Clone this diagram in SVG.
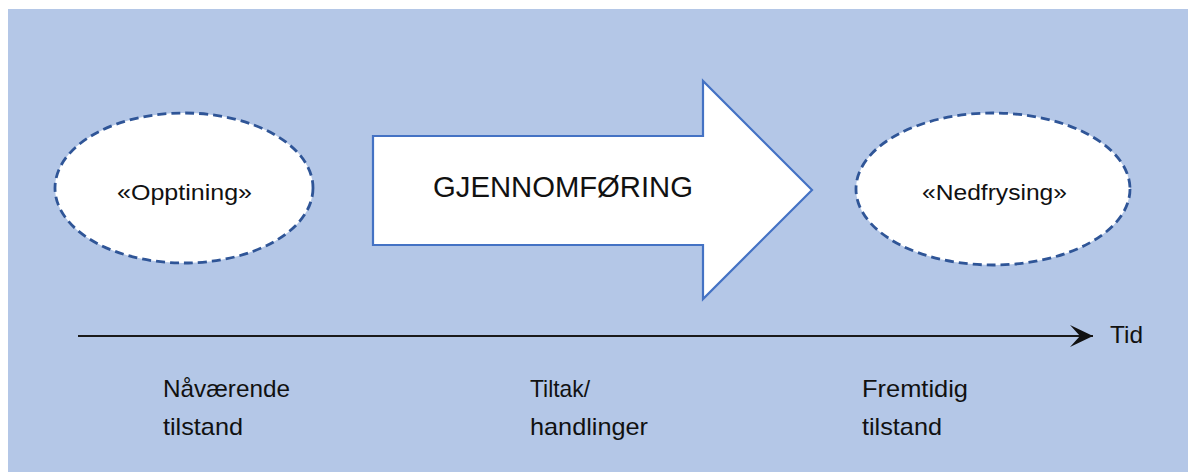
<svg xmlns="http://www.w3.org/2000/svg" width="1188" height="472" viewBox="0 0 1188 472">
<style>
.bg{fill:#b4c7e7}
.state{fill:#ffffff;stroke:#2f5597;stroke-width:2.8;stroke-dasharray:9 5}
.big{fill:#ffffff;stroke:#4472c4;stroke-width:2.2}
.t{font-family:"Liberation Sans",Arial,sans-serif;fill:#111}
.lbl{font-size:22px}
.foot{font-size:24px}
.axis{stroke:#1a1a1a;stroke-width:2;fill:none}
</style>
<defs>
<marker id="ah" markerUnits="userSpaceOnUse" markerWidth="26" markerHeight="26" refX="23" refY="12" orient="auto" viewBox="0 0 26 24">
<path d="M0,1 L23,12 L0,23 L10,12 Z" fill="#111"/>
</marker>
</defs>
<rect class="bg" x="8" y="9" width="1180" height="463"/>
<g id="connectors">
<line class="axis" x1="78" y1="336" x2="1093" y2="336" marker-end="url(#ah)"/>
</g>
<g id="node-opptining">
<ellipse class="state" cx="184" cy="188" rx="129" ry="75"/>
<text class="t lbl" x="117" y="200" textLength="135" lengthAdjust="spacingAndGlyphs">«Opptining»</text>
</g>
<g id="node-gjennomforing">
<path class="big" d="M373,136 L703,136 L703,81 L812,190 L703,299 L703,245 L373,245 Z"/>
<text class="t" x="433" y="197" font-size="29" textLength="260" lengthAdjust="spacingAndGlyphs">GJENNOMFØRING</text>
</g>
<g id="node-nedfrysing">
<ellipse class="state" cx="993" cy="189" rx="137" ry="76"/>
<text class="t lbl" x="922" y="200" textLength="145" lengthAdjust="spacingAndGlyphs">«Nedfrysing»</text>
</g>
<g id="labels">
<text class="t foot" x="1110" y="343" textLength="33" lengthAdjust="spacingAndGlyphs">Tid</text>
<text class="t foot" x="163" y="397" textLength="127" lengthAdjust="spacingAndGlyphs">Nåværende</text>
<text class="t foot" x="163" y="435" textLength="80" lengthAdjust="spacingAndGlyphs">tilstand</text>
<text class="t foot" x="530" y="397" textLength="60" lengthAdjust="spacingAndGlyphs">Tiltak/</text>
<text class="t foot" x="530" y="435" textLength="118" lengthAdjust="spacingAndGlyphs">handlinger</text>
<text class="t foot" x="862" y="397" textLength="106" lengthAdjust="spacingAndGlyphs">Fremtidig</text>
<text class="t foot" x="862" y="435" textLength="80" lengthAdjust="spacingAndGlyphs">tilstand</text>
</g>
</svg>
